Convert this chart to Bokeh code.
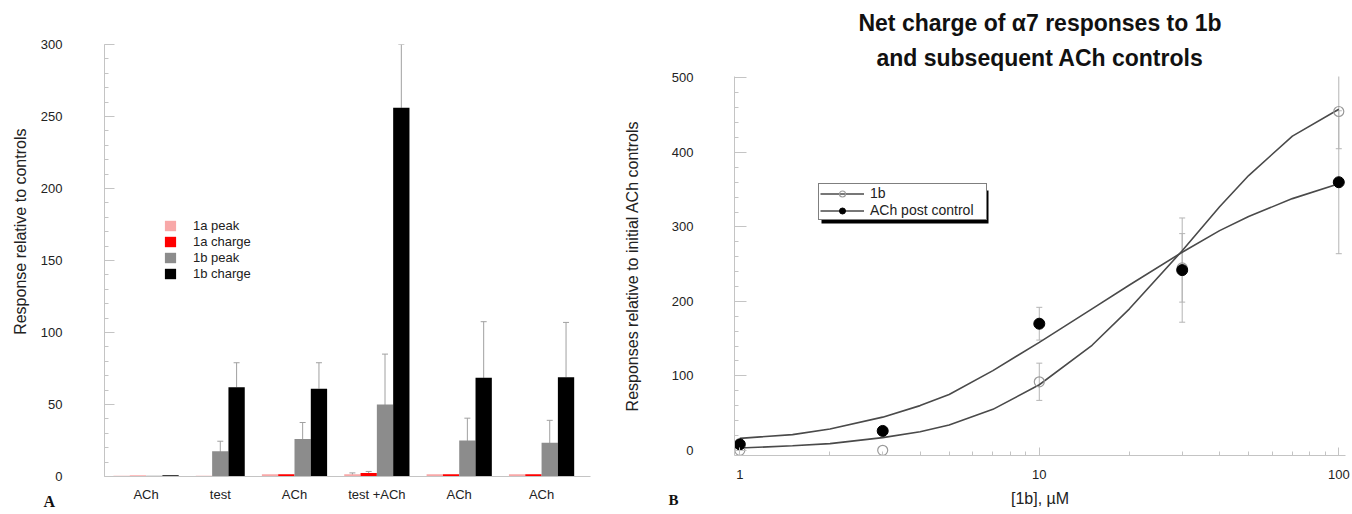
from bokeh.plotting import figure
from bokeh.layouts import row
from bokeh.models import (Range1d, FixedTicker, Whisker, TeeHead, ColumnDataSource,
                          Legend, LegendItem, BoxAnnotation, Title)
from bokeh.embed import file_html
from bokeh.resources import INLINE

# ---------------- Panel A data ----------------
groups = ["ACh", "test", "ACh", "test +ACh", "ACh", "ACh"]
series_names = ["1a peak", "1a charge", "1b peak", "1b charge"]
a_peak = [0.5, 0.5, 1.5, 1.5, 1.5, 1.5]
a_peak_err = [0, 0, 0, 1.0, 0, 0]
a_charge = [0.5, None, 1.5, 2.5, 1.5, 1.5]
a_charge_err = [0, 0, 0, 1.0, 0, 0]
b_peak = [0.5, 17.5, 26, 50, 25, 23.5]
b_peak_err = [0, 7, 11.5, 35, 15.5, 15.5]
b_charge = [0.8, 62, 61, 256, 68.5, 69]
b_charge_err = [0, 17, 18, 44, 39, 38]
bar_colors = ["#f8a8a8", "#ff0000", "#8c8c8c", "#000000"]
yA_ticks = [0, 50, 100, 150, 200, 250, 300]

# ---------------- Panel B data ----------------
conc = [1, 3, 10, 30, 100]
resp_1b = [0, 0, 92, 245, 455]
err_1b = [0, 0, 25, 46, 50]
resp_ach = [8, 26, 170, 242, 360]
err_ach = [0, 0, 22, 70, 96]
curve_x = [1, 1.5, 2, 3, 4, 5, 7, 10, 15, 20, 30, 40, 50, 70, 100]
curve_1b = [3, 6, 9, 17, 25, 34, 55, 88, 141, 190, 268, 327, 369, 422, 458]
curve_ach = [16, 21, 28.5, 44.5, 60, 75, 107, 145, 190, 222, 266, 295, 314, 338, 358]
xB_ticks = [1, 10, 100]
yB_ticks = [0, 100, 200, 300, 400, 500]
title_lines = ["Net charge of \u03b17 responses to 1b", "and subsequent ACh controls"]

FONT = "Liberation Sans"
AXIS_GRAY = "#c4c4c4"
TXT = "#222222"
TICK_FS = "13px"


def style_axis(ax, tick_in, minor_in, standoff):
    ax.axis_line_color = AXIS_GRAY
    ax.major_tick_line_color = AXIS_GRAY
    ax.minor_tick_line_color = AXIS_GRAY
    ax.major_tick_in = tick_in
    ax.major_tick_out = 0
    ax.minor_tick_in = minor_in
    ax.minor_tick_out = 0
    ax.major_label_standoff = standoff
    ax.major_label_text_font = FONT
    ax.major_label_text_font_size = TICK_FS
    ax.major_label_text_color = TXT


# ================= Panel A =================
pA = figure(width=620, height=514, x_range=Range1d(0, 29.8), y_range=Range1d(0, 300),
            output_backend="svg", toolbar_location=None,
            min_border_left=104, min_border_right=30, min_border_top=44, min_border_bottom=38)
pA.frame_align = False
pA.outline_line_color = None
pA.grid.visible = False

series_vals = [a_peak, a_charge, b_peak, b_charge]
series_errs = [a_peak_err, a_charge_err, b_peak_err, b_charge_err]

xs = [[] for _ in series_names]
ys = [[] for _ in series_names]
es = [[] for _ in series_names]
centers = []
pos = 1.05
for gi in range(len(groups)):
    start = pos
    for si in range(len(series_names)):
        v = series_vals[si][gi]
        if v is None:
            continue
        xs[si].append(pos)
        ys[si].append(v)
        es[si].append(series_errs[si][gi])
        pos += 1
    centers.append(round((start + pos - 1) / 2, 3))
    pos += 1.05

legend_items = []
for si, name in enumerate(series_names):
    src = ColumnDataSource(dict(x=xs[si], top=ys[si]))
    r = pA.vbar(x="x", top="top", width=1.0, bottom=0, source=src,
                fill_color=bar_colors[si], line_color=None)
    legend_items.append(LegendItem(label=name, renderers=[r]))
    ex = [x for x, e in zip(xs[si], es[si]) if e > 0]
    if not ex:
        continue
    ev = [v for v, e in zip(ys[si], es[si]) if e > 0]
    ee = [e for e in es[si] if e > 0]
    if si == 3:
        lower = ev
        lower_head = None
    else:
        lower = [v - e for v, e in zip(ev, ee)]
        lower_head = TeeHead(size=6, line_color="#a0a0a0", line_width=1)
    wsrc = ColumnDataSource(dict(base=ex, upper=[v + e for v, e in zip(ev, ee)], lower=lower))
    pA.add_layout(Whisker(base="base", upper="upper", lower="lower", source=wsrc,
                          line_color="#a0a0a0", line_width=1,
                          upper_head=TeeHead(size=6, line_color="#a0a0a0", line_width=1),
                          lower_head=lower_head))

legA = Legend(items=legend_items, location=(59, 195), padding=0, margin=0, spacing=1,
              glyph_width=14, glyph_height=13, label_height=13, label_standoff=16,
              label_text_font_size="13px", label_text_font=FONT, label_text_color=TXT,
              border_line_color=None, background_fill_alpha=0)
pA.add_layout(legA)

ya = pA.yaxis[0]
ya.ticker = FixedTicker(ticks=yA_ticks, minor_ticks=list(range(0, 301, 10)))
style_axis(ya, 10, 4, 42)
pA.add_layout(Title(text="Response relative to controls", align="right", offset=84,
                    standoff=17, text_font=FONT, text_font_size="16px",
                    text_font_style="normal", text_color=TXT), "left")

xa = pA.xaxis[0]
xa.ticker = FixedTicker(ticks=centers, minor_ticks=[])
xa.major_label_overrides = {c: g for c, g in zip(centers, groups)}
style_axis(xa, 0, 0, 10)
xa.major_tick_line_color = None
xa.minor_tick_line_color = None

pA.add_layout(Title(text="A", align="left", offset=-61, standoff=-24, vertical_align="top",
                    text_font="Liberation Serif", text_font_size="16px",
                    text_font_style="bold", text_color="#111111"), "below")

# ================= Panel B =================
pB = figure(width=732, height=514, x_axis_type="log",
            x_range=Range1d(0.96, 105.3), y_range=Range1d(-7, 502),
            output_backend="svg", toolbar_location=None, title=None,
            min_border_left=113, min_border_right=7, min_border_top=76, min_border_bottom=59)
pB.frame_align = False
pB.outline_line_color = None
pB.grid.visible = False
pB.add_layout(Title(text=title_lines[1], align="center", text_font=FONT,
                    text_font_size="23px", text_font_style="bold", text_color="#111111",
                    standoff=12), "above")
pB.add_layout(Title(text=title_lines[0], align="center", text_font=FONT,
                    text_font_size="23px", text_font_style="bold", text_color="#111111",
                    standoff=2), "above")

l1 = pB.line(curve_x, curve_1b, line_color="#4a4a4a", line_width=1.6)
l2 = pB.line(curve_x, curve_ach, line_color="#4a4a4a", line_width=1.6)

w1 = [(c, r, e) for c, r, e in zip(conc, resp_1b, err_1b) if e > 0]
w2 = [(c, r, e) for c, r, e in zip(conc, resp_ach, err_ach) if e > 0]
for wl in (w1, w2):
    s = ColumnDataSource(dict(base=[a for a, _, _ in wl],
                              upper=[b + c for _, b, c in wl],
                              lower=[b - c for _, b, c in wl]))
    pB.add_layout(Whisker(base="base", upper="upper", lower="lower", source=s,
                          line_color="#b4b4b4", line_width=1,
                          upper_head=TeeHead(size=6, line_color="#b4b4b4", line_width=1),
                          lower_head=TeeHead(size=6, line_color="#b4b4b4", line_width=1)))

c1 = pB.scatter(conc, resp_1b, marker="circle", size=10, fill_alpha=0,
                line_color="#9a9a9a", line_width=1.2)
c2 = pB.scatter(conc, resp_ach, marker="circle", size=11, fill_color="black",
                line_color="black")

# legend shadow
pB.add_layout(BoxAnnotation(left=87, right=254, bottom=232, top=265,
                            left_units="screen", right_units="screen",
                            bottom_units="screen", top_units="screen",
                            fill_color="black", fill_alpha=1, line_color=None))
legB = Legend(items=[LegendItem(label="1b", renderers=[l1, c1]),
                     LegendItem(label="ACh post control", renderers=[l2, c2])],
              location=(84, 235), padding=1, margin=0, spacing=1,
              glyph_width=44, glyph_height=15, label_height=15, label_standoff=6,
              label_width=115, label_text_font=FONT, label_text_font_size="14px",
              label_text_color=TXT, border_line_color="black", border_line_width=1,
              background_fill_color="white", background_fill_alpha=1)
pB.add_layout(legB)

yb = pB.yaxis[0]
yb.ticker = FixedTicker(ticks=yB_ticks, minor_ticks=list(range(0, 501, 20)))
style_axis(yb, 12, 4, 41)
yb.axis_label = "Responses relative to initial ACh controls"
yb.axis_label_text_font = FONT
yb.axis_label_text_font_size = "16px"
yb.axis_label_text_font_style = "normal"
yb.axis_label_text_color = TXT
yb.axis_label_standoff = 28

xb = pB.xaxis[0]
xb.ticker = FixedTicker(ticks=xB_ticks,
                        minor_ticks=[m * d for d in (1, 10) for m in range(2, 10)])
xb.major_label_overrides = {t: str(t) for t in xB_ticks}
style_axis(xb, 8, 4, 14)
xb.axis_label = "[1b], \u00b5M"
xb.axis_label_text_font = FONT
xb.axis_label_text_font_size = "16px"
xb.axis_label_text_font_style = "normal"
xb.axis_label_text_color = TXT
xb.axis_label_standoff = 8

pB.add_layout(Title(text="B", align="left", offset=-66, standoff=-36, vertical_align="top",
                    text_font="Liberation Serif", text_font_size="15px",
                    text_font_style="bold", text_color="#111111"), "below")

layout = row(pA, pB)
open("out.html", "w").write(file_html(layout, INLINE, "chart"))
